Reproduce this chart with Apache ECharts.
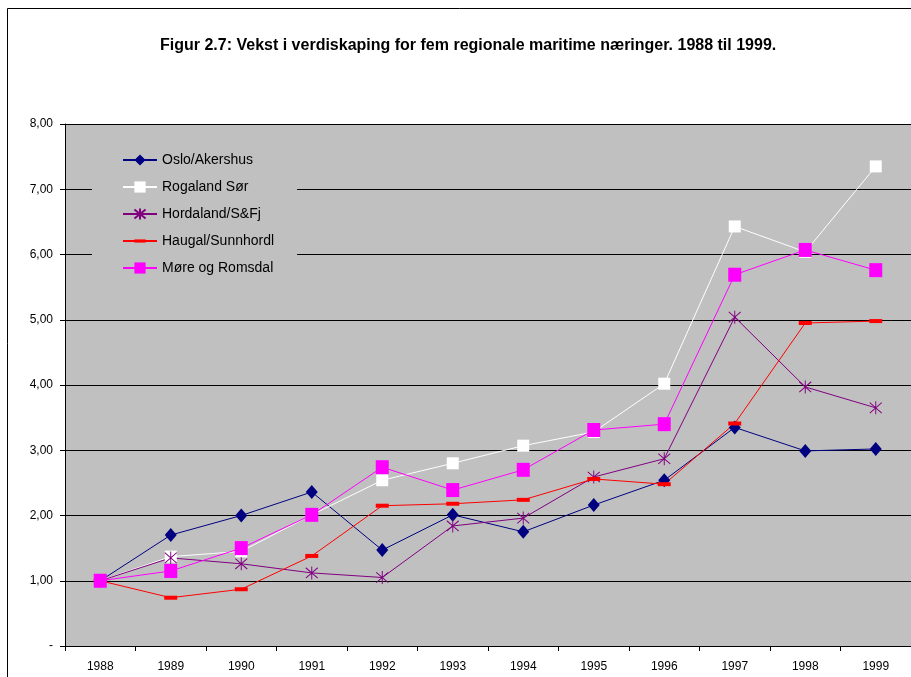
<!DOCTYPE html>
<html>
<head>
<meta charset="utf-8">
<script src="https://cdn.jsdelivr.net/npm/echarts@6/dist/echarts.min.js"></script>
<style>
  html, body { margin: 0; padding: 0; background: #fff; }
  #main { width: 911px; height: 677px; }
</style>
</head>
<body>
<div id="main"></div>
<script>
// år og indeksverdier (1988 = 1,00)
const years = ['1988', '1989', '1990', '1991', '1992', '1993', '1994', '1995', '1996', '1997', '1998', '1999'];
const oslo = [1.00, 1.70, 2.00, 2.36, 1.47, 2.01, 1.75, 2.16, 2.54, 3.35, 2.99, 3.02];
const rogaland = [1.00, 1.37, 1.45, 2.01, 2.54, 2.80, 3.07, 3.28, 4.02, 6.43, 6.04, 7.35];
const hordaland = [1.00, 1.35, 1.26, 1.12, 1.05, 1.84, 1.96, 2.59, 2.87, 5.04, 3.97, 3.65];
const haugal = [1.00, 0.74, 0.87, 1.38, 2.15, 2.18, 2.24, 2.56, 2.48, 3.41, 4.95, 4.98];
const more = [1.00, 1.15, 1.50, 2.01, 2.74, 2.39, 2.70, 3.31, 3.40, 5.69, 6.07, 5.76];

const font = '"Liberation Sans", Arial, sans-serif';
const chart = echarts.init(document.getElementById('main'), null, { renderer: 'canvas' });

// stjerne og strek som egne symboler (streken har usynlig ramme så legenden blir riktig)
const asterisk = 'path://M5,0L5,10M0,1L10,9M0,9L10,1';
const dash = 'path://M0,0M0,5L13,5L13,9L0,9ZM13,14';

function lineSeries(name, data, color, symbol, size, border) {
  return {
    name: name,
    type: 'line',
    data: data,
    symbol: symbol,
    symbolSize: size,
    showAllSymbol: true,
    animation: false,
    lineStyle: { color: color, width: 1 },
    itemStyle: border
      ? { color: 'transparent', borderColor: color, borderWidth: 1 }
      : { color: color, borderWidth: 0 },
    emphasis: { disabled: true }
  };
}

const option = {
  backgroundColor: '#ffffff',
  animation: false,
  title: {
    text: 'Figur 2.7: Vekst i verdiskaping for fem regionale maritime næringer. 1988 til 1999.',
    left: 155,
    top: 33,
    textStyle: { fontFamily: font, fontSize: 16, fontWeight: 'bold', color: '#000' }
  },
  graphic: [{
    type: 'rect',
    shape: { x: 7.5, y: 8.5, width: 1000, height: 1000 },
    style: { fill: 'none', stroke: '#000', lineWidth: 1 },
    z: 100
  }],
  legend: {
    orient: 'vertical',
    left: 92,
    top: 140,
    padding: [13, 23, 10, 30],
    backgroundColor: '#c0c0c0',
    itemWidth: 34,
    itemHeight: 14,
    itemGap: 13,
    textStyle: { fontFamily: font, fontSize: 14, color: '#000' },
    data: ['Oslo/Akershus', 'Rogaland Sør', 'Hordaland/S&Fj', 'Haugal/Sunnhordl', 'Møre og Romsdal']
  },
  grid: {
    left: 65,
    right: 0,
    top: 124,
    bottom: 31,
    show: true,
    backgroundColor: '#c0c0c0',
    borderWidth: 0
  },
  xAxis: {
    type: 'category',
    data: years,
    boundaryGap: true,
    axisLine: { lineStyle: { color: '#000', width: 1 } },
    axisTick: { show: true, length: 5, lineStyle: { color: '#000' } },
    axisLabel: { fontFamily: font, fontSize: 12, color: '#000', margin: 15 },
    splitLine: { show: false }
  },
  yAxis: {
    type: 'value',
    min: 0,
    max: 8,
    interval: 1,
    axisLine: { show: true, lineStyle: { color: '#000', width: 1 } },
    axisTick: { show: true, length: 5, lineStyle: { color: '#000' } },
    axisLabel: {
      fontFamily: font,
      fontSize: 12,
      color: '#000',
      margin: 12,
      formatter: function (v) {
        return v === 0 ? '-' : v.toFixed(2).replace('.', ',');
      }
    },
    splitLine: { show: true, lineStyle: { color: '#000', width: 1 } }
  },
  series: [
    lineSeries('Oslo/Akershus', oslo, '#000080', 'diamond', [12, 14], false),
    lineSeries('Rogaland Sør', rogaland, '#ffffff', 'rect', [12, 12], false),
    lineSeries('Hordaland/S&Fj', hordaland, '#800080', asterisk, [12, 13], true),
    lineSeries('Haugal/Sunnhordl', haugal, '#ff0000', dash, [13, 14], false),
    lineSeries('Møre og Romsdal', more, '#ff00ff', 'rect', [13, 14], false)
  ]
};

chart.setOption(option);
</script>
</body>
</html>
